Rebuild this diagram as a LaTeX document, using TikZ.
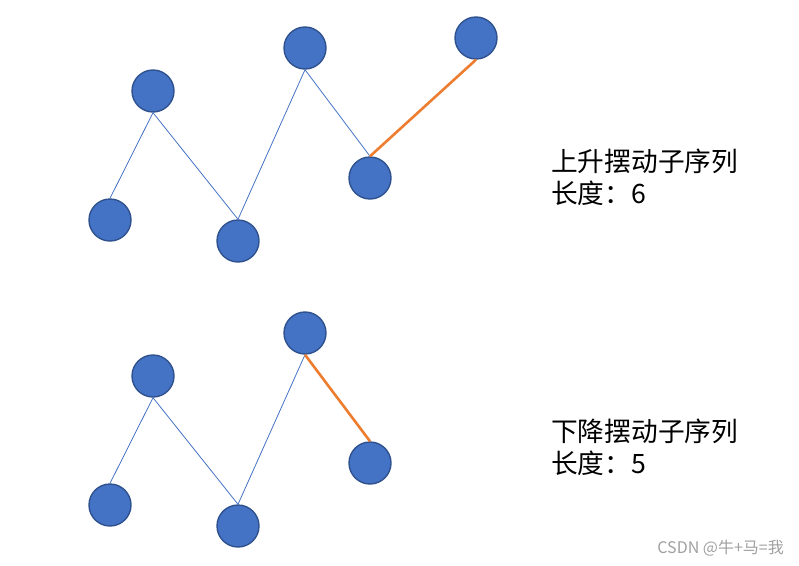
\documentclass[tikz,border=0pt]{standalone}
\usepackage{fontspec}
\newfontfamily\cjk{Noto Sans CJK SC}
\definecolor{nodefill}{HTML}{4472C4}
\definecolor{nodeedge}{HTML}{2F528F}
\definecolor{linkblue}{HTML}{4472C4}
\definecolor{linkorange}{HTML}{ED7D31}
\definecolor{wmgray}{HTML}{A0A0A0}
\tikzset{
  dot/.style={circle, fill=nodefill, draw=nodeedge, line width=1.4pt, minimum size=42pt, inner sep=0pt},
  link/.style={draw=linkblue, line width=0.8pt},
  hilite/.style={draw=linkorange, line width=2.6pt},
  label/.style={font=\cjk\fontsize{26.7}{32}\selectfont, anchor=base west, inner sep=0pt},
  wm/.style={font=\cjk\fontsize{16}{18}\selectfont, text=wmgray, anchor=base east, inner sep=0pt}
}
\begin{document}
\begin{tikzpicture}[x=1pt, y=-1pt]
\useasboundingbox (0,0) rectangle (799,565);
% upper sequence
\node[dot] (a1) at (110,220) {};
\node[dot] (b1) at (153,91) {};
\node[dot] (c1) at (238,241) {};
\node[dot] (d1) at (305,48) {};
\node[dot] (e1) at (370,178) {};
\node[dot] (f1) at (476,38) {};
\draw[link] (a1.north) -- (b1.south);
\draw[link] (b1.south) -- (c1.north);
\draw[link] (c1.north) -- (d1.south);
\draw[link] (d1.south) -- (e1.north);
\draw[hilite] (e1.north) -- (f1.south);
% lower sequence
\node[dot] (a2) at (110,505) {};
\node[dot] (b2) at (153,376) {};
\node[dot] (c2) at (238,526) {};
\node[dot] (d2) at (305,333) {};
\node[dot] (e2) at (370,463) {};
\draw[link] (a2.north) -- (b2.south);
\draw[link] (b2.south) -- (c2.north);
\draw[link] (c2.north) -- (d2.south);
\draw[hilite] (d2.south) -- (e2.north);
% labels
\node[label] (t1) at (551,171) {上升摆动子序列};
\node[label] (t2) at (551,203) {长度：6};
\node[label] (t3) at (551,441) {下降摆动子序列};
\node[label] (t4) at (551,473) {长度：5};
\node[wm] (w) at (784,553) {CSDN @牛+马=我};
\end{tikzpicture}
\end{document}
